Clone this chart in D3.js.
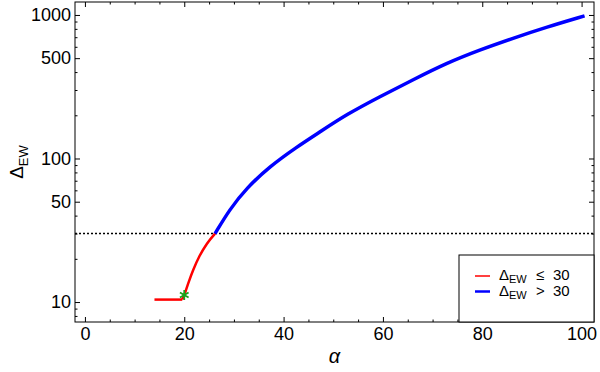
<!DOCTYPE html>
<html>
<head>
<meta charset="utf-8">
<script src="https://cdn.jsdelivr.net/npm/d3@7"></script>
<style>
    body { margin: 0; background: #fff; }
    svg { font-family: "Liberation Sans", Arial, sans-serif; }
</style>
</head>
<body>
<div id="chart"></div>
<script>
// red part: Delta_EW <= 30 (flat piece, then rising piece)
const flatAlpha = [14, 19.6];
const flatDelta = [10.4, 10.4];
const redAlpha = [19.6, 20, 20.8, 21.8, 23.1, 24.6, 26.2];
const redDelta = [10.4, 11.2, 13.5, 16.7, 21, 25.6, 30];

// blue part: Delta_EW > 30
const blueAlpha = [26.2, 29.2, 32.5, 37.2, 42.6, 47.3, 52.7, 59.4, 66.1, 72.8, 79.5, 86.2, 92.9, 100.6];
const blueDelta = [30, 44.5, 62, 88, 120, 153, 203, 270, 354, 462, 571, 689, 822, 986];

const starPoint = [20, 11.2];
const threshold = 30;

const xMajor = [0, 20, 40, 60, 80, 100];
const xMinor = [5, 10, 15, 25, 30, 35, 45, 50, 55, 65, 70, 75, 85, 90, 95];
const yMajor = [10, 50, 100, 500, 1000];
const yMinor = [8, 9, 20, 30, 40, 60, 70, 80, 90, 200, 300, 400, 600, 700, 800, 900];

const legendItems = [
    { label: "\u2264", value: "30", color: "red", width: 1.5 },
    { label: ">", value: "30", color: "blue", width: 2.5 }
];

const width = 600, height = 372;
const margin = { top: 2, right: 6, bottom: 50, left: 75 };

const svg = d3.select("#chart").append("svg")
    .attr("width", width)
    .attr("height", height);

const x = d3.scaleLinear()
    .domain([-2, 102.5])
    .range([margin.left, width - margin.right]);

const y = d3.scaleLog()
    .domain([7.26, 1231])
    .range([height - margin.bottom, margin.top]);

const x0 = margin.left, x1 = width - margin.right;
const y0 = height - margin.bottom, y1 = margin.top;

// frame
svg.append("rect")
    .attr("x", x0).attr("y", y1)
    .attr("width", x1 - x0).attr("height", y0 - y1)
    .attr("fill", "none").attr("stroke", "#000").attr("stroke-width", 1);

function styleAxis(g) {
    g.select(".domain").remove();
    g.selectAll("line").attr("stroke", "#000");
    g.selectAll("text").attr("fill", "#000").style("font-size", "18px");
}

// bottom / top
svg.append("g").attr("transform", `translate(0,${y0})`)
    .call(d3.axisBottom(x).tickValues(xMajor).tickSizeInner(-5).tickPadding(5).tickFormat(d3.format("d")))
    .call(styleAxis);
svg.append("g").attr("transform", `translate(0,${y0})`)
    .call(d3.axisBottom(x).tickValues(xMinor).tickSizeInner(-2.5).tickFormat(""))
    .call(styleAxis);
svg.append("g").attr("transform", `translate(0,${y1})`)
    .call(d3.axisTop(x).tickValues(xMajor).tickSizeInner(-5).tickFormat(""))
    .call(styleAxis);
svg.append("g").attr("transform", `translate(0,${y1})`)
    .call(d3.axisTop(x).tickValues(xMinor).tickSizeInner(-2.5).tickFormat(""))
    .call(styleAxis);

// left / right
svg.append("g").attr("transform", `translate(${x0},0)`)
    .call(d3.axisLeft(y).tickValues(yMajor).tickSizeInner(-5).tickPadding(4).tickFormat(d3.format("d")))
    .call(styleAxis);
svg.append("g").attr("transform", `translate(${x0},0)`)
    .call(d3.axisLeft(y).tickValues(yMinor).tickSizeInner(-2.5).tickFormat(""))
    .call(styleAxis);
svg.append("g").attr("transform", `translate(${x1},0)`)
    .call(d3.axisRight(y).tickValues(yMajor).tickSizeInner(-5).tickFormat(""))
    .call(styleAxis);
svg.append("g").attr("transform", `translate(${x1},0)`)
    .call(d3.axisRight(y).tickValues(yMinor).tickSizeInner(-2.5).tickFormat(""))
    .call(styleAxis);

// threshold line
svg.append("line")
    .attr("x1", x0).attr("x2", x1)
    .attr("y1", y(threshold)).attr("y2", y(threshold))
    .attr("stroke", "#000").attr("stroke-width", 1.5)
    .attr("stroke-dasharray", "2,2");

const smooth = d3.line()
    .x(d => x(d[0]))
    .y(d => y(d[1]))
    .curve(d3.curveBasis);

svg.append("path")
    .datum(flatAlpha.map((a, i) => [a, flatDelta[i]]))
    .attr("d", d3.line().x(d => x(d[0])).y(d => y(d[1])))
    .attr("fill", "none").attr("stroke", "red").attr("stroke-width", 2.5);

svg.append("path")
    .datum(redAlpha.map((a, i) => [a, redDelta[i]]))
    .attr("d", d3.line().x(d => x(d[0])).y(d => y(d[1])).curve(d3.curveMonotoneX))
    .attr("fill", "none").attr("stroke", "red").attr("stroke-width", 2.5);

svg.append("path")
    .datum(blueAlpha.map((a, i) => [a, blueDelta[i]]))
    .attr("d", smooth)
    .attr("fill", "none").attr("stroke", "blue").attr("stroke-width", 3.5);

// green star
svg.append("path")
    .attr("d", d3.symbol(d3.symbolAsterisk, 70)())
    .attr("transform", `translate(${x(starPoint[0])},${y(starPoint[1])})`)
    .attr("fill", "none").attr("stroke", "#1aa31a").attr("stroke-width", 1.8);

// axis labels
svg.append("text")
    .attr("x", (x0 + x1) / 2).attr("y", 363)
    .attr("text-anchor", "middle")
    .style("font-size", "20px").style("font-style", "italic")
    .text("\u03b1");

const yl = svg.append("text")
    .attr("transform", `translate(23,${(y0 + y1) / 2}) rotate(-90)`)
    .attr("text-anchor", "middle")
    .style("font-size", "19px");
yl.append("tspan").text("\u0394");
yl.append("tspan").attr("dy", 5).style("font-size", "13px").text("EW");

// legend
const legend = svg.append("g");
legend.append("rect")
    .attr("x", 459).attr("y", 255)
    .attr("width", x1 - 459).attr("height", y0 - 255)
    .attr("fill", "#fff").attr("stroke", "#000").attr("stroke-width", 1);

legendItems.forEach((d, i) => {
    const ly = 276 + i * 15.5;
    legend.append("line")
        .attr("x1", 475).attr("x2", 490)
        .attr("y1", ly).attr("y2", ly)
        .attr("stroke", d.color).attr("stroke-width", d.width);
    const t = legend.append("text")
        .attr("y", ly + 4)
        .style("font-size", "15px");
    t.append("tspan").attr("x", 499).text("\u0394");
    t.append("tspan").attr("dy", 3).style("font-size", "11px").text("EW");
    t.append("tspan").attr("x", 536).attr("dy", -3).text(d.label);
    t.append("tspan").attr("x", 553).text(d.value);
});
</script>
</body>
</html>
